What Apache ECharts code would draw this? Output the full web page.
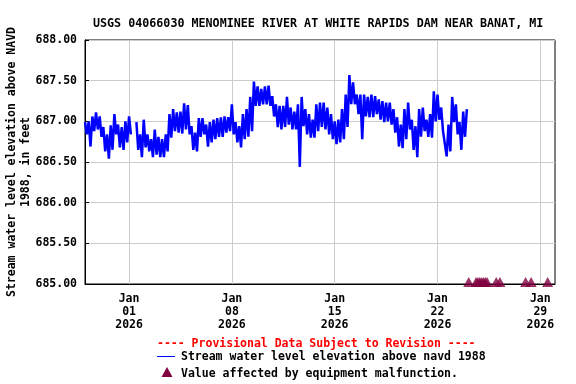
<!DOCTYPE html>
<html><head><meta charset="utf-8">
<script src="https://cdn.jsdelivr.net/npm/echarts@6/dist/echarts.min.js"></script>
<style>html,body{margin:0;padding:0;background:#fff}#c{width:576px;height:384px}</style>
</head><body><div id="c"></div>
<script>
// 6-hourly envelope (high then low) of stream level, ft, starting 2025-12-29 00:00
const levelHigh = [686.99,687.00,687.06,687.11,687.06,686.93,686.84,686.95,687.09,686.96,
686.93,687.00,687.06,null,686.99,686.84,687.02,686.84,686.78,686.90,
686.81,686.78,686.84,687.09,687.15,687.11,687.12,687.22,687.20,686.94,
686.86,687.04,687.04,686.96,686.99,687.02,687.04,687.05,687.06,687.05,
687.21,686.99,686.94,687.09,687.15,687.30,687.49,687.43,687.40,687.43,
687.44,687.31,687.21,687.19,687.19,687.30,687.17,687.12,687.21,687.30,
687.15,687.09,687.02,687.21,687.23,687.23,687.17,687.09,687.00,687.02,
687.15,687.33,687.57,687.48,687.33,687.33,687.33,687.30,687.33,687.31,
687.27,687.25,687.23,687.23,687.15,687.05,686.96,687.15,687.23,687.02,
686.94,687.15,687.17,687.02,687.09,687.37,687.33,687.17,686.86,686.96,
687.30,687.21,686.99,687.12,687.15];
const levelLow = [686.84,686.69,686.88,686.90,686.81,686.63,686.54,686.65,686.84,686.68,
686.65,686.74,686.84,null,686.65,686.56,686.68,686.63,686.56,686.59,
686.56,686.56,686.63,686.80,686.88,686.86,686.85,686.90,686.84,686.65,
686.63,686.81,686.84,686.69,686.74,686.78,686.81,686.81,686.86,686.88,
686.84,686.74,686.68,686.78,686.81,686.88,687.19,687.19,687.21,687.21,
687.19,687.06,686.93,686.90,686.93,686.96,686.90,686.90,686.44,686.94,
686.84,686.80,686.80,686.88,686.93,686.90,686.84,686.78,686.72,686.74,
686.78,686.93,687.21,687.21,687.09,686.78,687.06,687.05,687.05,687.09,
687.02,686.99,687.00,686.96,686.86,686.69,686.67,686.78,686.90,686.65,
686.56,686.81,686.88,686.81,686.80,687.00,687.02,686.88,686.57,686.63,
686.99,686.84,686.65,686.81];
const malfunctionTimes = ['2026-01-24 03:00','2026-01-24 15:00','2026-01-24 18:00','2026-01-24 21:00',
'2026-01-25 00:00','2026-01-25 03:00','2026-01-25 06:00','2026-01-25 09:00',
'2026-01-26 00:00','2026-01-26 06:00','2026-01-28 00:00','2026-01-28 09:00','2026-01-29 12:00'];
const malfunctionValue = 685.0;
const tickDates = ['2026-01-01 00:00','2026-01-08 00:00','2026-01-15 00:00','2026-01-22 00:00','2026-01-29 00:00'];
const tickLabels = ['Jan\n01\n2026','Jan\n08\n2026','Jan\n15\n2026','Jan\n22\n2026','Jan\n29\n2026'];
const yTicks = {min: 685, max: 688, step: 0.5};

// 3-hourly time categories from 2025-12-29 00:00 to 2026-01-30 00:00
const categories = [];
const pad = n => String(n).padStart(2,'0');
for (let t = Date.UTC(2025,11,29); t <= Date.UTC(2026,0,30); t += 3*3600*1000) {
  const d = new Date(t);
  categories.push(d.getUTCFullYear()+'-'+pad(d.getUTCMonth()+1)+'-'+pad(d.getUTCDate())+' '+pad(d.getUTCHours())+':00');
}
const lineData = [];
for (let i = 0; i < levelHigh.length; i++) {
  lineData.push(levelHigh[i]);
  if (i < levelLow.length) lineData.push(levelLow[i]);
}
while (lineData.length < categories.length) lineData.push(null);
const malData = malfunctionTimes.map(t => [categories.indexOf(t), malfunctionValue]);

const FONT = 'DejaVu Sans Mono';
const tickSet = new Set(tickDates);
const isTick = (idx, val) => tickSet.has(categories[idx]);

const chart = echarts.init(document.getElementById('c'), null, {renderer:'canvas'});
chart.setOption({
  animation: false,
  backgroundColor: '#fff',
  title: {
    text: 'USGS 04066030 MENOMINEE RIVER AT WHITE RAPIDS DAM NEAR BANAT, MI',
    left: 88, top: 13,
    textStyle: {fontFamily: FONT, fontSize: 11.7, fontWeight: 'bold', color: '#000'}
  },
  grid: {left: 85, right: 21, top: 40, bottom: 100, containLabel: false, outerBoundsMode: 'none',
         show: true, borderColor: '#000', borderWidth: 1, backgroundColor: '#fff'},
  xAxis: {
    type: 'category', data: categories, boundaryGap: false,
    axisLine: {lineStyle: {color: '#000', width: 1}},
    axisTick: {show: false},
    axisLabel: {
      interval: isTick, margin: 9, lineHeight: 13,
      fontFamily: FONT, fontSize: 11.5, fontWeight: 'bold', color: '#000',
      formatter: v => { const k = tickDates.indexOf(v); return k >= 0 ? tickLabels[k] : ''; }
    },
    splitLine: {show: true, interval: isTick, lineStyle: {color: '#cccccc', width: 1}}
  },
  yAxis: {
    type: 'value', min: yTicks.min, max: yTicks.max, interval: yTicks.step,
    name: 'Stream water level elevation above NAVD\n1988, in feet',
    nameLocation: 'middle', nameRotate: 90, nameGap: 52, nameMoveOverlap: false,
    nameTextStyle: {fontFamily: FONT, fontSize: 11.5, fontWeight: 'bold', color: '#000', lineHeight: 14, align: 'center'},
    axisLine: {show: true, lineStyle: {color: '#000', width: 1}},
    axisTick: {show: true, inside: true, length: 4, lineStyle: {color: '#000'}},
    axisLabel: {margin: 8, fontFamily: FONT, fontSize: 11.5, fontWeight: 'bold', color: '#000', formatter: v => v.toFixed(2)},
    splitLine: {show: true, lineStyle: {color: '#cccccc', width: 1}}
  },
  series: [
    {type: 'line', data: lineData, showSymbol: false, symbol: 'none', connectNulls: false,
     lineStyle: {color: '#0000ff', width: 2.5, join: 'bevel'}, itemStyle: {color: '#0000ff'}, z: 3},
    {type: 'scatter', data: malData, symbol: 'triangle', symbolSize: [11, 10], symbolOffset: [0, -2],
     itemStyle: {color: '#800040'}, clip: false, z: 4}
  ],
  graphic: [
    {type: 'text', left: 157, top: 338, style: {text: '---- Provisional Data Subject to Revision ----', fill: '#ff0000', font: 'bold 11.5px "DejaVu Sans Mono"'}},
    {type: 'line', shape: {x1: 157, y1: 356.5, x2: 175, y2: 356.5}, style: {stroke: '#0000ff', lineWidth: 1}},
    {type: 'text', left: 181, top: 351, style: {text: 'Stream water level elevation above navd 1988', fill: '#000', font: 'bold 11.5px "DejaVu Sans Mono"'}},
    {type: 'polygon', shape: {points: [[167, 367], [161.5, 377], [172.5, 377]]}, style: {fill: '#800040'}},
    {type: 'text', left: 181, top: 368, style: {text: 'Value affected by equipment malfunction.', fill: '#000', font: 'bold 11.5px "DejaVu Sans Mono"'}}
  ]
});
</script></body></html>
